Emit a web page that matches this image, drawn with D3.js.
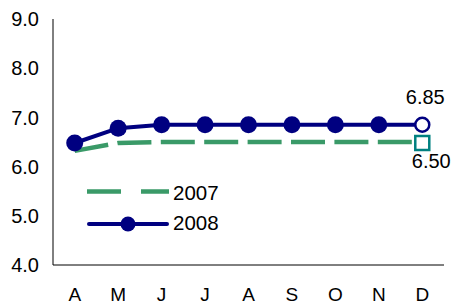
<!DOCTYPE html>
<html><head><meta charset="utf-8">
<script src="https://cdn.jsdelivr.net/npm/d3@7/dist/d3.min.js"></script>
<style>body{margin:0;background:#fff}svg{display:block}text{font-family:"Liberation Sans",Arial,sans-serif;fill:#000}</style>
</head><body><svg id="c" width="454" height="307"></svg>
<script>
const months = ["A","M","J","J","A","S","O","N","D"];
const series2007 = [6.32,6.48,6.5,6.5,6.5,6.5,6.5,6.5,6.5];
const series2008 = [6.48,6.78,6.85,6.85,6.85,6.85,6.85,6.85,6.85];
const yTicks = [4,5,6,7,8,9];

const svg = d3.select("#c");
const x = d3.scaleBand().domain(d3.range(months.length)).range([53,444]);
const y = d3.scaleLinear().domain([4,9]).range([265,19]);
const cx = i => x(i)+x.bandwidth()/2;

// axes
svg.append("line").attr("x1",53).attr("x2",53).attr("y1",19).attr("y2",265).attr("stroke","#000").attr("stroke-width",1);
svg.append("line").attr("x1",53).attr("x2",444).attr("y1",265).attr("y2",265).attr("stroke","#000").attr("stroke-width",1);
svg.selectAll(".yt").data(yTicks).enter().append("text")
  .attr("x",39).attr("y",d=>y(d)).attr("dy","0.36em").attr("text-anchor","end")
  .attr("font-size",20).text(d=>d.toFixed(1));
svg.selectAll(".xt").data(months).enter().append("text")
  .attr("x",(d,i)=>cx(i)).attr("y",301).attr("text-anchor","middle")
  .attr("font-size",19).text(d=>d);

const line = d3.line().x((d,i)=>cx(i)).y(d=>y(d));
const green = "#3a9a68", navy = "#000080", teal = "#008080";

svg.append("path").datum(series2007).attr("d",line).attr("fill","none")
  .attr("stroke",green).attr("stroke-width",4.5).attr("stroke-dasharray","34,9.4");
svg.append("path").datum(series2008).attr("d",line).attr("fill","none")
  .attr("stroke",navy).attr("stroke-width",4);

const n = months.length;
svg.selectAll(".m08").data(series2008.slice(0,n-1)).enter().append("circle")
  .attr("cx",(d,i)=>cx(i)).attr("cy",d=>y(d)).attr("r",8.5).attr("fill",navy);
svg.append("circle").attr("cx",cx(n-1)).attr("cy",y(series2008[n-1])).attr("r",7)
  .attr("fill","#fff").attr("stroke",navy).attr("stroke-width",2.5);
svg.append("rect").attr("x",cx(n-1)-7).attr("y",y(series2007[n-1])-6).attr("width",14).attr("height",14)
  .attr("fill","#fff").attr("stroke",teal).attr("stroke-width",2.5);

svg.append("text").attr("x",cx(n-1)+3).attr("y",104).attr("text-anchor","middle")
  .attr("font-size",20).text(series2008[n-1].toFixed(2));
svg.append("text").attr("x",cx(n-1)+9).attr("y",168).attr("text-anchor","middle")
  .attr("font-size",20).text(series2007[n-1].toFixed(2));

// legend
svg.append("line").attr("x1",87).attr("x2",169).attr("y1",191.5).attr("y2",191.5)
  .attr("stroke",green).attr("stroke-width",4.5).attr("stroke-dasharray","34,20");
svg.append("text").attr("x",173).attr("y",200).attr("font-size",20.5).text("2007");
svg.append("line").attr("x1",89).attr("x2",167).attr("y1",224).attr("y2",224)
  .attr("stroke",navy).attr("stroke-width",4).attr("stroke-linecap","round");
svg.append("circle").attr("cx",128).attr("cy",224).attr("r",7.5).attr("fill",navy);
svg.append("text").attr("x",173).attr("y",230).attr("font-size",20.5).text("2008");
</script></body></html>
